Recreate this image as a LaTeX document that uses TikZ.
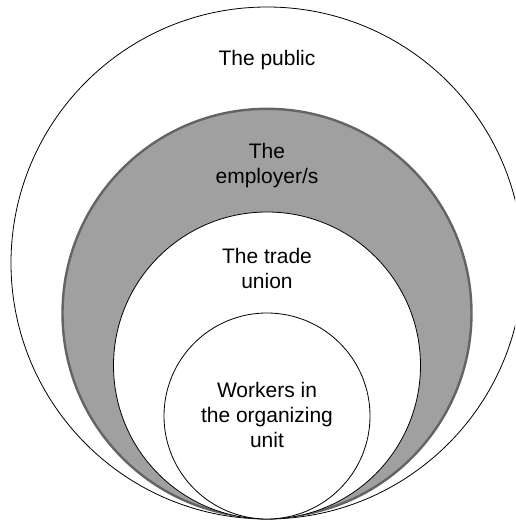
\documentclass[tikz,border=0pt]{standalone}
\usepackage{fontspec}
\setmainfont{Liberation Sans}
\usetikzlibrary{positioning}
\definecolor{employerfill}{RGB}{160,160,160}
\definecolor{employeredge}{RGB}{100,100,100}

\begin{document}
\begin{tikzpicture}[
    x=1pt, y=1pt,
    ring/.style={circle, draw, line width=0.8pt, fill=white, inner sep=0pt, outer sep=0pt},
    caption/.style={inner sep=0pt, align=center, font=\fontsize{21}{25}\selectfont}
]
    \useasboundingbox (0,0) rectangle (515,520);
    \clip (0,0) rectangle (515,520);

    % Circles, all touching at the bottom
    \node[ring, minimum size=512pt] (public) at (267,257) {};
    \node[ring, minimum size=409pt, draw=employeredge, fill=employerfill, line width=2.4pt,
          anchor=south] (employer) at ([yshift=1.2pt]public.south) {};
    \node[ring, minimum size=307pt, anchor=south] (union) at (public.south) {};
    \node[ring, minimum size=206pt, anchor=south] (workers) at (public.south) {};

    % Labels
    \node[caption, below=43pt of public.north] (publiclabel) {The public};
    \node[caption, below=34pt of employer.north] (employerlabel) {The\\employer/s};
    \node[caption, below=36pt of union.north] (unionlabel) {The trade\\union};
    \node[caption, below=69pt of workers.north] (workerslabel) {Workers in\\the organizing\\unit};
\end{tikzpicture}
\end{document}
